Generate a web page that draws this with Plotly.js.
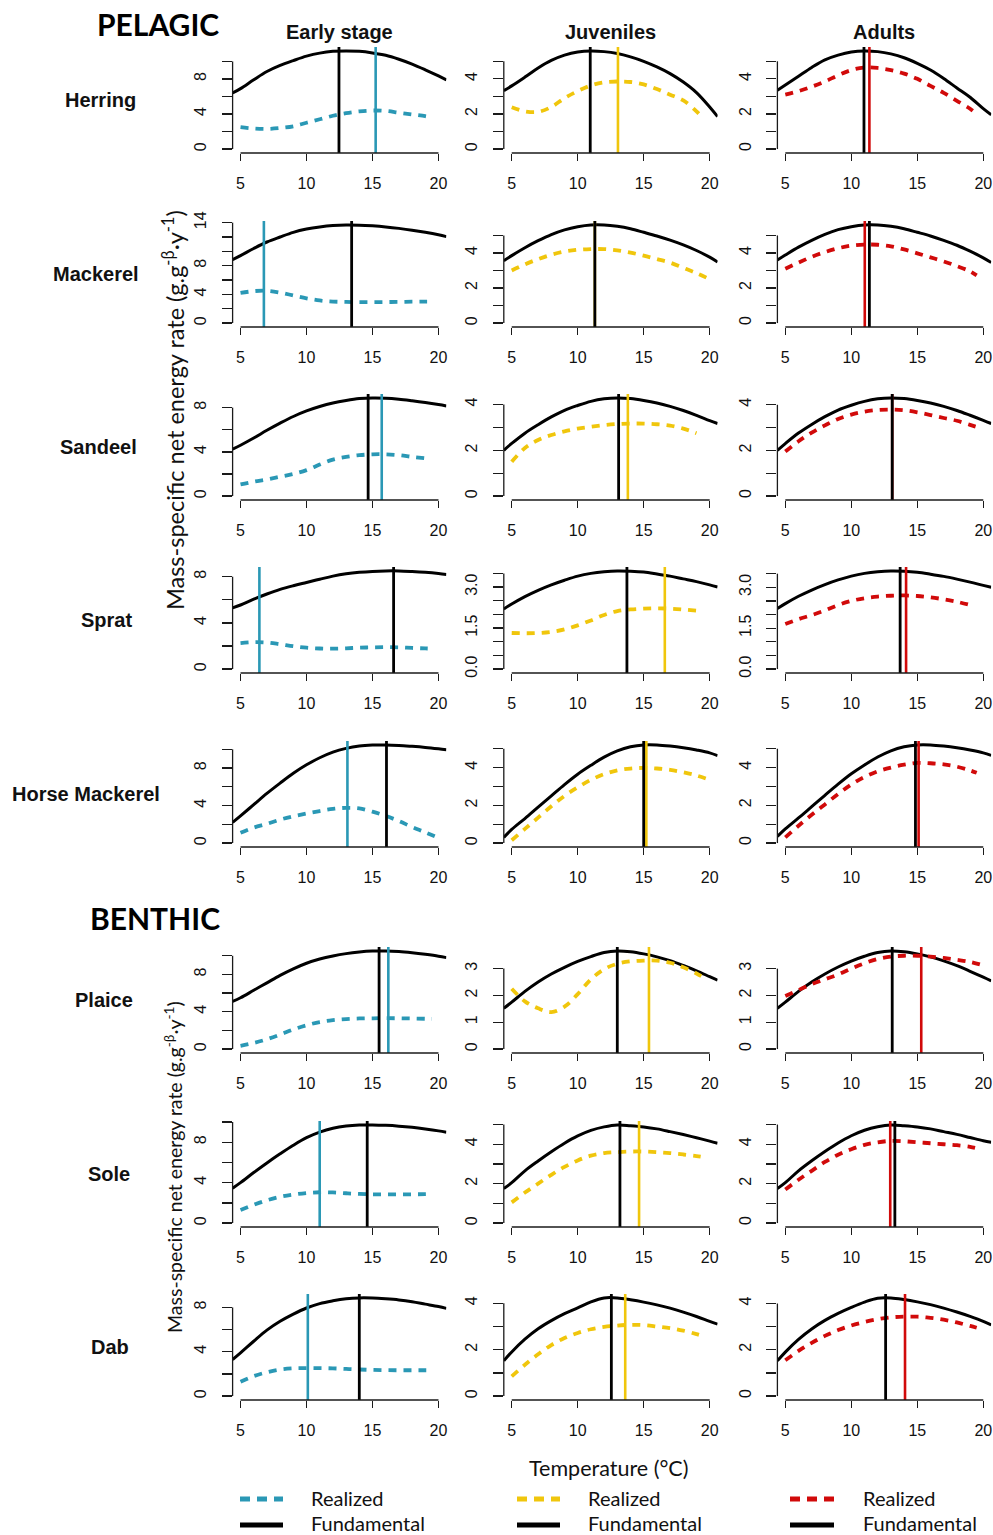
<!DOCTYPE html>
<html><head><meta charset="utf-8">
<script src="https://cdn.plot.ly/plotly-3.0.1.min.js"></script>
<style>html,body{margin:0;padding:0;background:#fff}#chart{width:993px;height:1535px}</style>
</head><body><div id="chart"></div>
<script>
// ---------- categories ----------
const species = ["Herring","Mackerel","Sandeel","Sprat","Horse Mackerel","Plaice","Sole","Dab"];
const stages = ["Early stage","Juveniles","Adults"];
const stageColors = ["#2a98b5","#f0c60c","#d10a0a"];
const xTickVals = [5,10,15,20];
const xTickText = ["5","10","15","20"];

// ---------- temperature grids ----------
const T_FUND = [4.4,5,6,7,8,9,10,11,12,13,14,15,16,17,18,19,20,20.6];
const T_R19  = [5,6,7,8,9,10,11,12,13,14,15,16,17,18,19];
const T_R195 = [5,6,7,8,9,10,11,12,13,14,15,16,17,18,19,19.5];
const T_R20  = [5,6,7,8,9,10,11,12,13,14,15,16,17,18,19,20];

// ---------- y tick sets: all tick marks, and the labelled ones ----------
const yt10 = [0,2,4,6,8,10];        const yl10 = [0,4,8];        const ytx10 = ["0","4","8"];
const yt14 = [0,2,4,6,8,10,12,14];  const yl14 = [0,4,8,14];     const ytx14 = ["0","4","8","14"];
const yt8  = [0,2,4,6,8];           const yl8  = [0,4,8];        const ytx8  = ["0","4","8"];
const yt5  = [0,1,2,3,4,5];         const yl5  = [0,2,4];        const ytx5  = ["0","2","4"];
const yt4  = [0,1,2,3,4];           const yl4  = [0,2,4];        const ytx4  = ["0","2","4"];
const yt35 = [0,0.5,1,1.5,2,2.5,3,3.5]; const yl35 = [0,1.5,3]; const ytx35 = ["0.0","1.5","3.0"];
const yt3  = [0,1,2,3];             const yl3  = [0,1,2,3];      const ytx3  = ["0","1","2","3"];

// ---------- Herring ----------
const herringEarlyFund = [6.4,6.9,7.9,8.85,9.55,10.1,10.6,10.95,11.15,11.2,11.15,10.97,10.7,10.25,9.7,9.05,8.35,7.9];
const herringEarlyReal = [2.5,2.35,2.3,2.4,2.6,3.0,3.4,3.8,4.1,4.3,4.4,4.35,4.15,3.95,3.75,3.6];
const herringJuvFund   = [3.33,3.6,4.1,4.62,5.05,5.35,5.53,5.59,5.55,5.44,5.25,5.0,4.68,4.3,3.82,3.22,2.4,1.85];
const herringJuvReal   = [2.38,2.15,2.12,2.4,2.9,3.3,3.62,3.8,3.85,3.82,3.68,3.42,3.1,2.77,2.15,1.75];
const herringAdFund    = [3.35,3.65,4.15,4.65,5.08,5.35,5.53,5.59,5.55,5.42,5.2,4.88,4.5,4.02,3.48,2.95,2.3,1.95];
const herringAdReal    = [3.1,3.3,3.55,3.85,4.2,4.5,4.65,4.62,4.5,4.3,4.0,3.6,3.2,2.75,2.3,2.0];
const herringOpt = {real:[15.24,13.05,11.37], fund:[12.46,10.95,10.96]};
// ---------- Mackerel ----------
const mackerelEarlyFund = [8.85,9.4,10.4,11.3,12.0,12.65,13.1,13.4,13.6,13.68,13.65,13.55,13.4,13.2,12.95,12.65,12.3,12.05];
const mackerelEarlyReal = [4.2,4.45,4.5,4.25,3.85,3.45,3.15,3.0,2.95,2.92,2.92,2.93,2.95,2.98,3.0,3.0];
const mackerelJuvFund   = [3.56,3.85,4.3,4.7,5.05,5.32,5.5,5.6,5.6,5.52,5.38,5.18,4.97,4.73,4.46,4.14,3.76,3.48];
const mackerelJuvReal   = [3.0,3.35,3.65,3.9,4.08,4.18,4.22,4.22,4.15,4.02,3.85,3.65,3.45,3.15,2.85,2.5];
const mackerelAdFund    = [3.6,3.88,4.33,4.72,5.06,5.33,5.5,5.6,5.6,5.52,5.38,5.18,4.97,4.72,4.44,4.1,3.72,3.46];
const mackerelAdReal    = [3.1,3.45,3.78,4.05,4.27,4.42,4.48,4.47,4.38,4.2,3.98,3.75,3.52,3.25,2.95,2.72];
const mackerelOpt = {real:[6.77,11.3,11.02], fund:[13.42,11.3,11.37]};
// ---------- Sandeel ----------
const sandeelEarlyFund = [4.25,4.6,5.25,5.95,6.6,7.2,7.7,8.1,8.42,8.65,8.82,8.88,8.86,8.77,8.63,8.47,8.28,8.15];
const sandeelEarlyReal = [1.05,1.3,1.5,1.75,2.0,2.35,2.85,3.3,3.55,3.7,3.78,3.78,3.7,3.55,3.42];
const sandeelJuvFund   = [2.0,2.3,2.75,3.12,3.46,3.75,3.96,4.14,4.25,4.29,4.26,4.18,4.07,3.92,3.74,3.53,3.3,3.17];
const sandeelJuvReal   = [1.5,2.1,2.45,2.67,2.83,2.95,3.03,3.1,3.15,3.17,3.17,3.14,3.08,2.95,2.75];
const sandeelAdFund    = [2.0,2.3,2.76,3.14,3.48,3.77,3.98,4.15,4.26,4.3,4.27,4.19,4.08,3.93,3.75,3.54,3.32,3.18];
const sandeelAdReal    = [1.95,2.4,2.78,3.1,3.38,3.57,3.7,3.77,3.79,3.76,3.67,3.55,3.42,3.3,3.12,3.03];
const sandeelOpt = {real:[15.7,13.8,13.1], fund:[14.67,13.1,13.1]};
// ---------- Sprat ----------
const spratEarlyFund = [5.3,5.55,6.05,6.5,6.9,7.22,7.5,7.78,8.05,8.25,8.38,8.46,8.5,8.5,8.45,8.38,8.28,8.2];
const spratEarlyReal = [2.25,2.33,2.3,2.15,1.98,1.85,1.78,1.77,1.8,1.85,1.88,1.9,1.88,1.83,1.79,1.77];
const spratJuvFund   = [2.2,2.38,2.65,2.88,3.08,3.25,3.4,3.5,3.56,3.59,3.58,3.55,3.48,3.4,3.3,3.2,3.08,3.0];
const spratJuvReal   = [1.32,1.31,1.32,1.36,1.45,1.6,1.78,1.98,2.12,2.18,2.21,2.22,2.21,2.18,2.14];
const spratAdFund    = [2.22,2.4,2.67,2.9,3.1,3.27,3.41,3.51,3.57,3.6,3.59,3.55,3.48,3.4,3.3,3.19,3.07,3.0];
const spratAdReal    = [1.65,1.83,1.98,2.15,2.35,2.5,2.6,2.66,2.69,2.7,2.68,2.63,2.56,2.47,2.35];
const spratOpt = {real:[6.43,16.6,14.15], fund:[16.6,13.73,13.7]};
// ---------- Horse Mackerel ----------
const horseEarlyFund = [2.2,2.9,4.1,5.3,6.4,7.45,8.35,9.1,9.7,10.1,10.35,10.45,10.47,10.42,10.32,10.2,10.05,9.95];
const horseEarlyReal = [1.1,1.65,2.05,2.5,2.85,3.15,3.42,3.65,3.76,3.7,3.35,2.9,2.35,1.72,1.15,0.55];
const horseJuvFund   = [0.3,0.72,1.3,1.9,2.5,3.1,3.65,4.12,4.55,4.88,5.1,5.2,5.2,5.14,5.05,4.93,4.78,4.63];
const horseJuvReal   = [0.15,0.75,1.35,1.95,2.5,2.95,3.35,3.65,3.85,3.95,3.98,3.95,3.88,3.75,3.58,3.35];
const horseAdFund    = [0.35,0.75,1.33,1.93,2.53,3.12,3.67,4.14,4.56,4.89,5.1,5.2,5.2,5.14,5.05,4.93,4.78,4.65];
const horseAdReal    = [0.3,0.92,1.5,2.05,2.6,3.1,3.5,3.8,4.0,4.15,4.25,4.23,4.17,4.05,3.85,3.72];
const horseOpt = {real:[13.1,15.2,15.1], fund:[16.06,15.0,14.86]};
// ---------- Plaice ----------
const plaiceEarlyFund = [5.1,5.5,6.3,7.1,7.9,8.6,9.2,9.65,9.98,10.23,10.4,10.5,10.52,10.46,10.33,10.16,9.96,9.8];
const plaiceEarlyReal = [0.35,0.65,1.05,1.55,2.1,2.55,2.9,3.1,3.22,3.28,3.3,3.31,3.3,3.28,3.25,3.24];
const plaiceJuvFund   = [1.52,1.75,2.15,2.5,2.8,3.05,3.27,3.45,3.6,3.66,3.63,3.55,3.44,3.3,3.12,2.92,2.7,2.57];
const plaiceJuvReal   = [2.25,1.78,1.52,1.38,1.58,2.05,2.6,2.98,3.18,3.27,3.3,3.3,3.22,3.05,2.82,2.68];
const plaiceAdFund    = [1.52,1.75,2.15,2.5,2.8,3.06,3.28,3.46,3.6,3.66,3.63,3.55,3.44,3.29,3.11,2.9,2.68,2.54];
const plaiceAdReal    = [1.98,2.2,2.42,2.6,2.78,3.0,3.2,3.36,3.45,3.48,3.48,3.45,3.4,3.33,3.25,3.12];
const plaiceOpt = {real:[16.2,15.4,15.3], fund:[15.5,13.0,13.1]};
// ---------- Sole ----------
const soleEarlyFund = [3.45,4.0,5.0,5.95,6.85,7.7,8.45,9.0,9.38,9.6,9.7,9.71,9.67,9.59,9.47,9.31,9.12,8.98];
const soleEarlyReal = [1.3,1.8,2.25,2.6,2.82,2.97,3.05,3.03,2.95,2.88,2.84,2.83,2.84,2.85,2.86,2.87];
const soleJuvFund   = [1.75,2.05,2.65,3.15,3.62,4.05,4.42,4.7,4.88,4.98,4.94,4.88,4.78,4.64,4.49,4.33,4.16,4.05];
const soleJuvReal   = [1.05,1.55,2.0,2.45,2.85,3.18,3.42,3.55,3.6,3.63,3.63,3.6,3.55,3.48,3.4,3.35];
const soleAdFund    = [1.75,2.05,2.65,3.16,3.63,4.06,4.43,4.71,4.89,4.98,4.94,4.88,4.78,4.64,4.5,4.34,4.18,4.1];
const soleAdReal    = [1.7,2.2,2.65,3.1,3.47,3.75,3.97,4.1,4.17,4.15,4.1,4.05,4.0,3.95,3.87,3.8];
const soleOpt = {real:[11.0,14.65,12.95], fund:[14.6,13.2,13.3]};
// ---------- Dab ----------
const dabEarlyFund = [3.3,3.9,4.95,5.95,6.75,7.4,7.95,8.35,8.6,8.78,8.86,8.85,8.78,8.68,8.52,8.3,8.08,7.92];
const dabEarlyReal = [1.3,1.8,2.15,2.4,2.5,2.52,2.52,2.5,2.45,2.4,2.36,2.34,2.33,2.33,2.33,2.33];
const dabJuvFund   = [1.52,1.9,2.45,2.9,3.25,3.55,3.8,4.06,4.23,4.23,4.15,4.05,3.93,3.79,3.62,3.43,3.22,3.1];
const dabJuvReal   = [0.85,1.35,1.8,2.2,2.5,2.72,2.88,2.98,3.04,3.07,3.06,3.0,2.93,2.82,2.67,2.58];
const dabAdFund    = [1.52,1.9,2.45,2.9,3.27,3.57,3.83,4.06,4.23,4.24,4.17,4.07,3.95,3.8,3.63,3.44,3.23,3.08];
const dabAdReal    = [1.55,1.95,2.3,2.6,2.85,3.05,3.2,3.32,3.4,3.43,3.43,3.38,3.3,3.18,3.03,2.95];
const dabOpt = {real:[10.1,13.6,14.07], fund:[14.0,12.55,12.6]};

// ---------- table built from the arrays above ----------
const panelTable = [
  [herringEarlyFund,herringEarlyReal,T_R195,yt10,yl10,ytx10],[herringJuvFund,herringJuvReal,T_R195,yt5,yl5,ytx5],[herringAdFund,herringAdReal,T_R195,yt5,yl5,ytx5],
  [mackerelEarlyFund,mackerelEarlyReal,T_R195,yt14,yl14,ytx14],[mackerelJuvFund,mackerelJuvReal,T_R20,yt5,yl5,ytx5],[mackerelAdFund,mackerelAdReal,T_R195,yt5,yl5,ytx5],
  [sandeelEarlyFund,sandeelEarlyReal,T_R19,yt8,yl8,ytx8],[sandeelJuvFund,sandeelJuvReal,T_R19,yt4,yl4,ytx4],[sandeelAdFund,sandeelAdReal,T_R195,yt4,yl4,ytx4],
  [spratEarlyFund,spratEarlyReal,T_R195,yt8,yl8,ytx8],[spratJuvFund,spratJuvReal,T_R19,yt35,yl35,ytx35],[spratAdFund,spratAdReal,T_R19,yt35,yl35,ytx35],
  [horseEarlyFund,horseEarlyReal,T_R20,yt10,yl10,ytx10],[horseJuvFund,horseJuvReal,T_R20,yt5,yl5,ytx5],[horseAdFund,horseAdReal,T_R195,yt5,yl5,ytx5],
  [plaiceEarlyFund,plaiceEarlyReal,T_R195,yt10,yl10,ytx10],[plaiceJuvFund,plaiceJuvReal,T_R195,yt3,yl3,ytx3],[plaiceAdFund,plaiceAdReal,T_R20,yt3,yl3,ytx3],
  [soleEarlyFund,soleEarlyReal,T_R195,yt10,yl10,ytx10],[soleJuvFund,soleJuvReal,T_R195,yt5,yl5,ytx5],[soleAdFund,soleAdReal,T_R195,yt5,yl5,ytx5],
  [dabEarlyFund,dabEarlyReal,T_R195,yt8,yl8,ytx8],[dabJuvFund,dabJuvReal,T_R195,yt4,yl4,ytx4],[dabAdFund,dabAdReal,T_R195,yt4,yl4,ytx4]
];
const optTable = [herringOpt,mackerelOpt,sandeelOpt,spratOpt,horseOpt,plaiceOpt,soleOpt,dabOpt];

// ---------- layout geometry (pixels) ----------
const FIG_W = 993, FIG_H = 1535;
const colLeft = [232.6, 503.8, 777.4], PW = 213.8;
const rowBottom = [153, 327, 500, 673, 847, 1053, 1227, 1400], PH = 106;
const rowLabelX = [100, 96, 98, 106, 86, 104, 109, 110];
const px = x => x / FIG_W, py = y => 1 - y / FIG_H;

const AX = '#1a1a1a', TXT = '#111';
const tickFont = {family:'Liberation Sans, Arial, sans-serif', size:16, color:TXT};
const traces = [], shapes = [], annotations = [];
const layout = {width:FIG_W, height:FIG_H, margin:{l:0,r:0,t:0,b:0}, showlegend:false,
  paper_bgcolor:'#fff', plot_bgcolor:'rgba(0,0,0,0)'};

for (let r = 0; r < 8; r++) {
  for (let c = 0; c < 3; c++) {
    const n = r*3 + c + 1, s = n === 1 ? '' : String(n);
    const [fund, real, tReal, yt, yl, ytx] = panelTable[r*3 + c];
    const M = Math.max(...fund);
    const yr = [-0.04*M, 1.04*M];
    layout['xaxis'+s] = {domain:[px(colLeft[c]), px(colLeft[c]+PW)], range:[4.4,20.6], anchor:'y'+s,
      tickvals:xTickVals, ticktext:xTickText, ticks:'outside', ticklen:7, tickwidth:1.3, tickcolor:AX,
      tickfont:tickFont, ticklabelstandoff:9, showline:false, showgrid:false, zeroline:false, fixedrange:true};
    layout['yaxis'+s] = {domain:[py(rowBottom[r]), py(rowBottom[r]-PH)], range:yr, anchor:'x'+s,
      tickvals:yl, ticktext:ytx, tickangle:-90, ticks:'outside', ticklen:10, tickwidth:1.3, tickcolor:AX,
      minor:{tickvals:yt, ticks:'outside', ticklen:10, tickwidth:1.3, tickcolor:AX, showgrid:false},
      tickfont:tickFont, ticklabelstandoff:9, showline:false, showgrid:false, zeroline:false, fixedrange:true};
    // R-style axis lines spanning first..last tick
    shapes.push({type:'line', xref:'x'+s, yref:'y'+s+' domain', x0:xTickVals[0], x1:xTickVals[xTickVals.length-1], y0:0, y1:0, line:{color:AX, width:1.3}});
    shapes.push({type:'line', xref:'x'+s+' domain', yref:'y'+s, x0:0, x1:0, y0:yt[0], y1:yt[yt.length-1], line:{color:AX, width:1.3}});
    // curves
    traces.push({x:T_FUND, y:fund, xaxis:'x'+s, yaxis:'y'+s, mode:'lines', line:{color:'#000', width:3, shape:'spline', smoothing:1}, hoverinfo:'skip'});
    traces.push({x:tReal, y:real, xaxis:'x'+s, yaxis:'y'+s, mode:'lines', line:{color:stageColors[c], width:3.8, dash:'8px,7px', shape:'spline', smoothing:1}, hoverinfo:'skip'});
    // optimum lines
    const o = optTable[r];
    traces.push({x:[o.real[c], o.real[c]], y:yr, xaxis:'x'+s, yaxis:'y'+s, mode:'lines', line:{color:stageColors[c], width:2.6}, hoverinfo:'skip'});
    traces.push({x:[o.fund[c], o.fund[c]], y:yr, xaxis:'x'+s, yaxis:'y'+s, mode:'lines', line:{color:'#000', width:2.8}, hoverinfo:'skip'});
  }
  annotations.push({xref:'paper', yref:'paper', x:px(rowLabelX[r]), y:py(rowBottom[r]-PH/2), text:'<b>'+species[r]+'</b>',
    showarrow:false, xanchor:'center', yanchor:'middle', font:{family:'Liberation Sans, Arial, sans-serif', size:20, color:TXT}});
}

// column titles
const colTitleX = [339.5, 610.7, 884.3];
stages.forEach((t,i) => annotations.push({xref:'paper', yref:'paper', x:px(colTitleX[i]), y:py(32), text:'<b>'+t+'</b>',
  showarrow:false, xanchor:'center', yanchor:'middle', font:{family:'Liberation Sans, Arial, sans-serif', size:20, color:TXT}}));

// group headers
const headFont = {family:'Lato, Noto Sans, sans-serif', size:30, color:'#000'};
annotations.push({xref:'paper', yref:'paper', x:px(158), y:py(24), text:'<b>PELAGIC</b>', showarrow:false, xanchor:'center', yanchor:'middle', font:headFont});
annotations.push({xref:'paper', yref:'paper', x:px(155), y:py(918), text:'<b>BENTHIC</b>', showarrow:false, xanchor:'center', yanchor:'middle', font:headFont});

// y titles
const yTitle = 'Mass-specific net energy rate (g.g<sup>-β</sup>·y<sup>-1</sup>)';
annotations.push({xref:'paper', yref:'paper', x:px(173), y:py(410), text:yTitle, textangle:-90, showarrow:false, xanchor:'center', yanchor:'middle', font:{family:'Lato, Noto Sans, sans-serif', size:23.5, color:TXT}});
annotations.push({xref:'paper', yref:'paper', x:px(173), y:py(1167), text:yTitle, textangle:-90, showarrow:false, xanchor:'center', yanchor:'middle', font:{family:'Lato, Noto Sans, sans-serif', size:19.5, color:TXT}});

// x title
annotations.push({xref:'paper', yref:'paper', x:px(608), y:py(1468), text:'Temperature (°C)', showarrow:false, xanchor:'center', yanchor:'middle', font:{family:'Lato, Noto Sans, sans-serif', size:21.5, color:TXT}});

// legends (three blocks)
const legLineX = [[240,283],[517,560],[790,834]];
const legTextX = [309, 586, 861];
const legendLabels = ["Realized","Fundamental"];
const legFont = {family:'Lato, Noto Sans, sans-serif', size:20, color:TXT};
for (let c = 0; c < 3; c++) {
  shapes.push({type:'line', xref:'paper', yref:'paper', x0:px(legLineX[c][0]), x1:px(legLineX[c][1]), y0:py(1499), y1:py(1499), line:{color:stageColors[c], width:5, dash:'10px,7px'}});
  shapes.push({type:'line', xref:'paper', yref:'paper', x0:px(legLineX[c][0]), x1:px(legLineX[c][1]), y0:py(1525), y1:py(1525), line:{color:'#000', width:5}});
  annotations.push({xref:'paper', yref:'paper', x:px(legTextX[c]), y:py(1497.5), text:legendLabels[0], showarrow:false, xanchor:'left', yanchor:'middle', font:legFont});
  annotations.push({xref:'paper', yref:'paper', x:px(legTextX[c]), y:py(1523), text:legendLabels[1], showarrow:false, xanchor:'left', yanchor:'middle', font:legFont});
}

layout.shapes = shapes;
layout.annotations = annotations;
Plotly.newPlot('chart', traces, layout, {staticPlot:true, displayModeBar:false});
</script>
</body></html>
